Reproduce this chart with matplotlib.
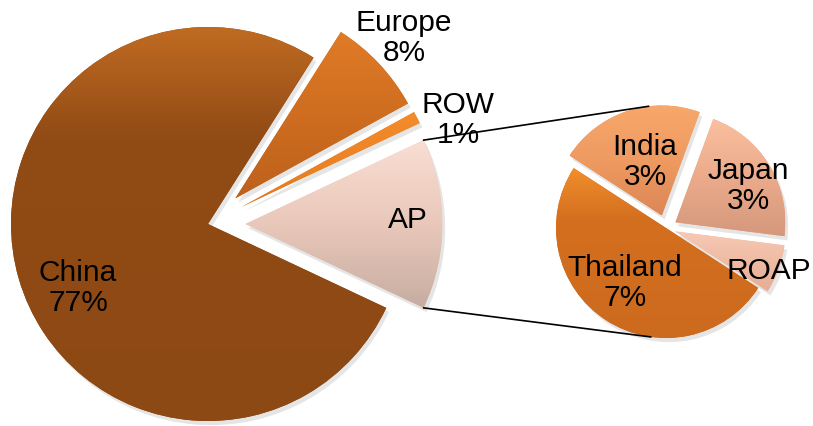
import numpy as np
import matplotlib
matplotlib.use("Agg")
import matplotlib.pyplot as plt
from matplotlib.colors import LinearSegmentedColormap
import matplotlib.patheffects as pe

# ---- data ----
main_labels = ["AP", "ROW", "Europe", "China"]
main_values = [14, 1, 8, 77]
main_pct = [None, "1%", "8%", "77%"]
sub_labels = ["ROAP", "Japan", "India", "Thailand"]
sub_values = [1, 3, 3, 7]
sub_pct = [None, "3%", "3%", "7%"]

# ---- styles (gradient stops: position, colour) ----
main_grad = [
    [(0, "#F9DED2"), (0.5, "#E9C8BA"), (1, "#C6ADA1")],      # AP
    [(0, "#F48C2C"), (0.5, "#EC8427"), (1, "#E07A22")],      # ROW
    [(0, "#E07C27"), (0.5, "#CF6D20"), (1, "#BD611C")],      # Europe
    [(0, "#C06B22"), (0.28, "#914B15"), (1, "#8D4914")],     # China
]
sub_grad = [
    [(0, "#F7C9B4"), (0.5, "#EFBBA3"), (1, "#E5AE95")],      # ROAP
    [(0, "#FAC09F"), (0.5, "#EBAB8B"), (1, "#D5987C")],      # Japan
    [(0, "#F8A86C"), (0.5, "#EE9A60"), (1, "#DC8756")],      # India
    [(0, "#F18E2C"), (0.3, "#D46F1F"), (1, "#CC6A1E")],      # Thailand
]
main_explode_frac = [0.19, 0.19, 0.19, 0.0]
sub_explode_frac = [0.09, 0.1, 0.12, 0.0]

W, H = 813, 426
fig = plt.figure(figsize=(W / 100, H / 100), dpi=100)
ax = fig.add_axes([0, 0, 1, 1])

shadow = [pe.SimplePatchShadow(offset=(2, -3), shadow_rgbFace="#000000", alpha=0.1), pe.Normal()]

main_r = 197
main_c = (208, H - 224)
sub_r = 110
sub_c = (666, H - 228)

main_w, _ = ax.pie(main_values, explode=[f * main_r for f in main_explode_frac],
                   startangle=-main_values[0] * 3.6 / 2,
                   counterclock=True, radius=main_r, center=main_c,
                   wedgeprops=dict(linewidth=0, edgecolor="none"))
sub_w, _ = ax.pie(sub_values, explode=[f * sub_r for f in sub_explode_frac], startangle=-33,
                  counterclock=True, radius=sub_r, center=sub_c,
                  wedgeprops=dict(linewidth=0, edgecolor="none"))


def grad_fill(patch, stops):
    cmap = LinearSegmentedColormap.from_list("g", stops)
    patch.set_facecolor(stops[1][1])
    patch.set_path_effects(shadow)
    bb = patch.get_path().get_extents()
    img = ax.imshow(np.linspace(0, 1, 256).reshape(-1, 1), cmap=cmap,
                    extent=[bb.x0, bb.x1, bb.y0, bb.y1], origin="upper",
                    aspect="auto", zorder=patch.get_zorder() + 0.5,
                    interpolation="bilinear")
    img.set_clip_path(patch)


for w, g in zip(main_w, main_grad):
    grad_fill(w, g)
for w, g in zip(sub_w, sub_grad):
    grad_fill(w, g)

# connector lines from AP wedge corners to secondary pie
ap = main_w[0]
p_top = (ap.center[0] + ap.r * np.cos(np.radians(ap.theta2)),
         ap.center[1] + ap.r * np.sin(np.radians(ap.theta2)))
p_bot = (ap.center[0] + ap.r * np.cos(np.radians(ap.theta1)),
         ap.center[1] + ap.r * np.sin(np.radians(ap.theta1)))
ind = sub_w[2]
thai = sub_w[3]
q_top = (ind.center[0] + ind.r * np.cos(np.radians(97)),
         ind.center[1] + ind.r * np.sin(np.radians(97)))
q_bot = (thai.center[0] + thai.r * np.cos(np.radians(262)),
         thai.center[1] + thai.r * np.sin(np.radians(262)))
ax.plot([p_top[0], q_top[0]], [p_top[1], q_top[1]], color="black", lw=1.2, zorder=10)
ax.plot([p_bot[0], q_bot[0]], [p_bot[1], q_bot[1]], color="black", lw=1.2, zorder=10)

# labels
font = dict(family=["Liberation Sans", "DejaVu Sans"], size=21.5, color="black")
main_pos = [(408, 220), (458, 120), (404, 38), (78, 288)]
sub_pos = [(769, 271), (748, 186), (645, 162), (625, 283)]
for lab, pct, (x, y) in zip(main_labels, main_pct, main_pos):
    s = lab if pct is None else lab + "\n" + pct
    ax.text(x, H - y, s, ha="center", va="center", multialignment="center",
            linespacing=1.12, zorder=20, **font)
for lab, pct, (x, y) in zip(sub_labels, sub_pct, sub_pos):
    s = lab if pct is None else lab + "\n" + pct
    ax.text(x, H - y, s, ha="center", va="center", multialignment="center",
            linespacing=1.12, zorder=20, **font)

ax.set_xlim(0, W)
ax.set_ylim(0, H)
ax.set_aspect("equal")
ax.axis("off")
fig.savefig("out.png", dpi=100)
